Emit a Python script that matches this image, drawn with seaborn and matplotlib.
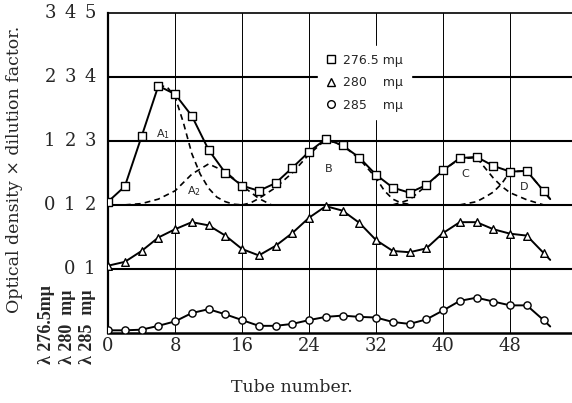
import numpy as np
import pandas as pd
import matplotlib
matplotlib.use('Agg')
import matplotlib.pyplot as plt
import matplotlib.transforms as mtransforms
from matplotlib.lines import Line2D
import seaborn as sns

# Tube numbers where readings were taken (every second tube)
tubes = list(range(0, 54, 2))

# Optical density x dilution factor
od_2765 = [0.05, 0.29, 1.07, 1.86, 1.73, 1.39, 0.86, 0.50, 0.30, 0.22, 0.34, 0.58, 0.83, 1.03,
           0.93, 0.74, 0.47, 0.27, 0.19, 0.31, 0.54, 0.73, 0.75, 0.61, 0.52, 0.53, 0.22]
od_280 = [0.05, 0.11, 0.28, 0.49, 0.62, 0.73, 0.68, 0.52, 0.31, 0.21, 0.36, 0.56, 0.80, 0.98,
          0.91, 0.72, 0.45, 0.28, 0.26, 0.32, 0.56, 0.73, 0.73, 0.62, 0.55, 0.52, 0.25]
od_285 = [0.04, 0.04, 0.05, 0.11, 0.18, 0.31, 0.37, 0.29, 0.20, 0.11, 0.11, 0.14, 0.20, 0.25,
          0.27, 0.25, 0.24, 0.17, 0.14, 0.21, 0.35, 0.50, 0.55, 0.49, 0.43, 0.43, 0.20]

# line tails past the last tube
tail_tube = 52.8
tail_2765, tail_280, tail_285 = 0.09, 0.14, 0.10

# baseline of each wavelength on the shared axis
offsets = {'276.5': 2, '280': 1, '285': 0}

# resolved components of the 276.5 curve (dashed)
a1_t = [6, 7, 8, 9, 10, 11, 12, 13, 14, 15, 16]
a1_v = [1.86, 1.85, 1.69, 1.28, 0.80, 0.48, 0.26, 0.12, 0.05, 0.01, 0.0]
a2_t = [2, 4, 6, 8, 10, 12, 14, 16, 18, 19.5]
a2_v = [0.0, 0.02, 0.09, 0.22, 0.48, 0.64, 0.52, 0.30, 0.10, 0.0]
b_t = [16, 17, 18, 20, 22, 24, 26, 28, 30, 32, 33, 34, 35, 36.4]
b_v = [0.0, 0.03, 0.10, 0.27, 0.50, 0.79, 1.02, 0.93, 0.72, 0.42, 0.22, 0.09, 0.03, 0.0]
c_t = [34, 36, 38, 40, 42, 44, 45, 46, 47, 48, 50, 52]
c_v = [0.0, 0.08, 0.30, 0.54, 0.72, 0.74, 0.58, 0.42, 0.29, 0.19, 0.08, 0.0]
d_t = [42, 44, 45, 46, 47, 48, 50, 52, 52.8]
d_v = [0.0, 0.05, 0.12, 0.20, 0.33, 0.52, 0.53, 0.22, 0.09]

peak_labels = [('A$_1$', 6.6, 1.11), ('A$_2$', 10.2, 0.21), ('B', 26.3, 0.56),
               ('C', 42.6, 0.48), ('D', 49.7, 0.28)]

x_ticks = [0, 8, 16, 24, 32, 40, 48]
# tick label columns (276.5, 280, 285) per horizontal line
ytick_cols = {5: ['3', '4', '5'], 4: ['2', '3', '4'], 3: ['1', '2', '3'],
              2: ['0', '1', '2'], 1: ['', '0', '1']}
lam_labels = ['λ 276.5mμ', 'λ 280  mμ', 'λ 285  mμ']

sns.set_theme(style='white')
plt.rcParams['font.family'] = ['DejaVu Serif']

fig = plt.figure(figsize=(5.72, 4.03), dpi=100)
ax = fig.add_axes([0.189, 0.174, 0.811, 0.794])

# grid
for x in x_ticks[1:]:
    ax.axvline(x, color='black', lw=0.7, zorder=1)
for y in [1, 2, 3, 4]:
    ax.axhline(y, color='black', lw=1.5, zorder=1)

series = [('276.5', od_2765, tail_2765, 's'), ('280', od_280, tail_280, '^'),
          ('285', od_285, tail_285, 'o')]

for name, vals, tail, mk in series:
    off = offsets[name]
    line_df = pd.DataFrame({'tube': tubes + [tail_tube],
                            'od': [v + off for v in vals] + [tail + off]})
    sns.lineplot(data=line_df, x='tube', y='od', ax=ax, color='black', lw=1.4,
                 sort=False, zorder=3)
    pt_df = pd.DataFrame({'tube': tubes, 'od': [v + off for v in vals]})
    sns.scatterplot(data=pt_df, x='tube', y='od', ax=ax, marker=mk,
                    s=30 if mk == '^' else 27,
                    facecolor='white', edgecolor='black', linewidth=1.0, zorder=4)

for t, v in [(a1_t, a1_v), (a2_t, a2_v), (b_t, b_v), (c_t, c_v), (d_t, d_v)]:
    comp = pd.DataFrame({'tube': t, 'od': [x + offsets['276.5'] for x in v]})
    sns.lineplot(data=comp, x='tube', y='od', ax=ax, color='black', lw=1.2,
                 linestyle=(0, (3.5, 2.5)), sort=False, zorder=2)

for lab, t, v in peak_labels:
    ax.text(t, v + offsets['276.5'], lab, family='DejaVu Sans', fontsize=8,
            ha='center', va='center', zorder=5)

ax.set_xlim(0, 55.4)
ax.set_ylim(0, 5)
ax.set_xticks(x_ticks)
ax.set_xticklabels([str(x) for x in x_ticks], fontsize=13)
ax.tick_params(axis='x', length=0, pad=3)
ax.set_yticks([])
ax.set_xlabel('')
ax.set_ylabel('')

for side in ['left', 'bottom', 'top']:
    ax.spines[side].set_color('black')
ax.spines['left'].set_linewidth(1.6)
ax.spines['bottom'].set_linewidth(1.8)
ax.spines['top'].set_linewidth(1.2)
ax.spines['right'].set_visible(False)

# y tick label columns
trans = mtransforms.blended_transform_factory(fig.transFigure, ax.transData)
col_x = [50 / 572, 70 / 572, 90 / 572]
for yv, labs in ytick_cols.items():
    for cx, lab in zip(col_x, labs):
        ax.text(cx, yv, lab, transform=trans, fontsize=13, ha='center', va='center',
                clip_on=False)

lam_x = [47 / 572, 67 / 572, 88 / 572]
for lx, lab in zip(lam_x, lam_labels):
    fig.text(lx, 1 - 364 / 403, lab, rotation=90, family='Liberation Serif',
             fontsize=13, fontweight='bold', ha='center', va='bottom')

fig.text(15 / 572, 1 - 169 / 403, 'Optical density × dilution factor.', rotation=90,
         fontsize=12.5, ha='center', va='center')
fig.text(292 / 572, 1 - 388 / 403, 'Tube number.', fontsize=12.5, ha='center',
         va='center')

handles = [Line2D([], [], marker=m, ls='none', mfc='white', mec='black', ms=5.5, mew=1.0)
           for m in ['s', '^', 'o']]
leg = ax.legend(handles, ['276.5 mμ', '280    mμ', '285    mμ'], loc='upper left',
                bbox_to_anchor=(0.44, 0.915), frameon=True, framealpha=1,
                facecolor='white', edgecolor='white', fancybox=False,
                prop={'family': 'DejaVu Sans', 'size': 9}, handlelength=0.8,
                handletextpad=0.6, labelspacing=0.75, borderpad=0.6)
leg.set_zorder(10)

fig.savefig('out.png', dpi=100)
